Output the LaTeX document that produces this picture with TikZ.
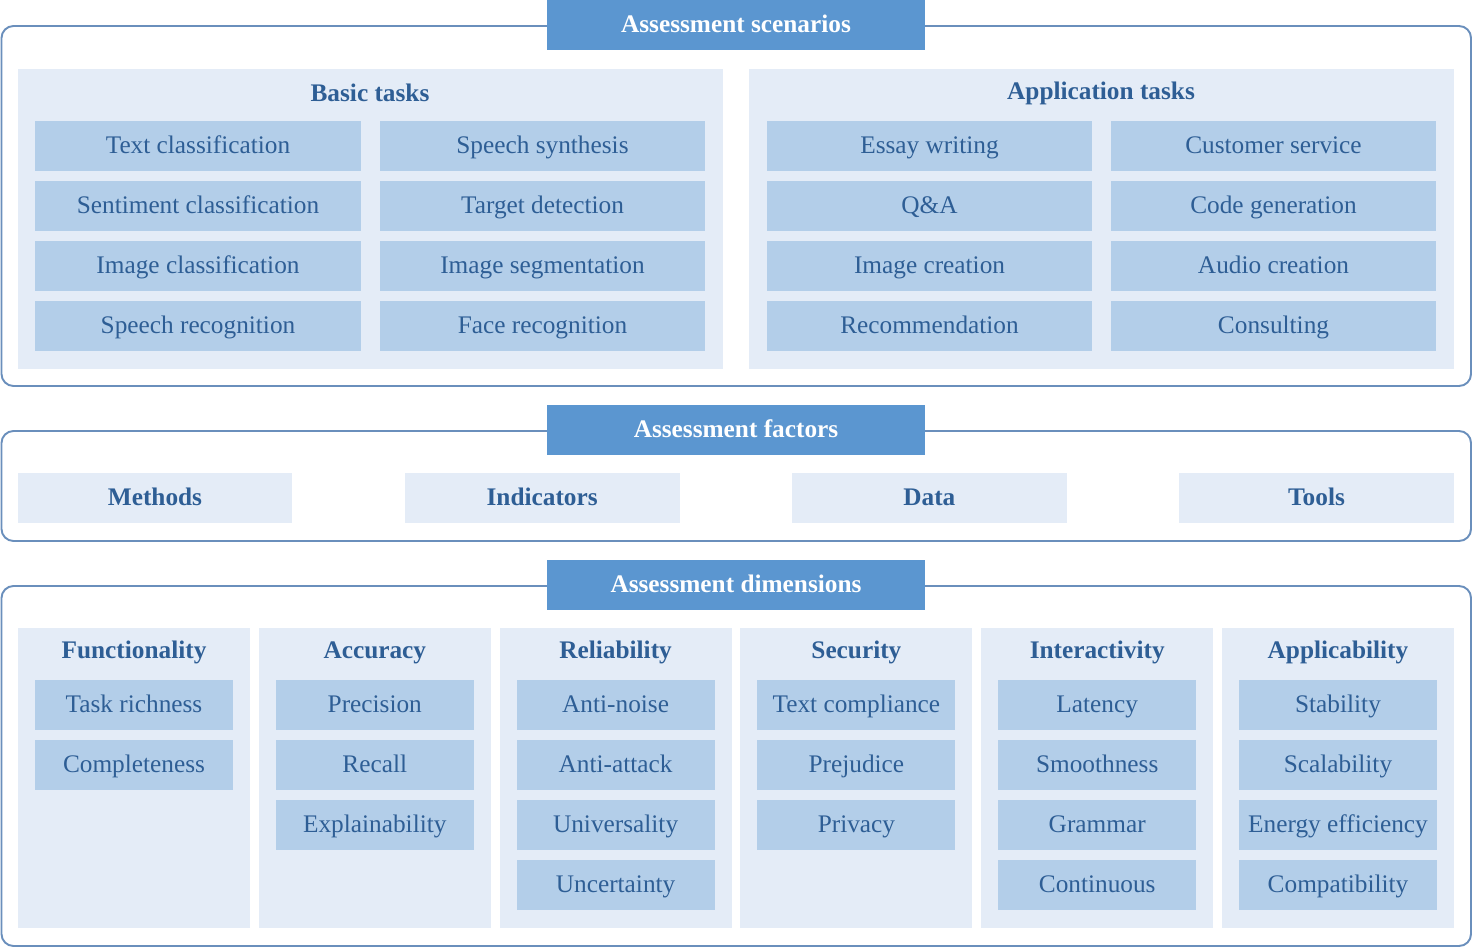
\documentclass[tikz,border=0pt]{standalone}
\usepackage{fontspec}
\setmainfont{Liberation Serif}
\definecolor{framec}{HTML}{6A8FBC}
\definecolor{headc}{HTML}{5B96D0}
\definecolor{panelc}{HTML}{E4ECF7}
\definecolor{cellc}{HTML}{B3CEE9}
\definecolor{txtc}{HTML}{2E5E95}
\tikzset{
  every node/.style={font=\fontsize{14.4}{17}\selectfont, text=txtc, inner sep=0pt,
    text height=0.9em, text depth=0.1em},
  frame/.style={draw=framec, line width=1.1pt, rounded corners=0.24cm},
  head/.style={fill=headc, text=white, font=\fontsize{14.4}{17}\selectfont\bfseries,
    minimum width=7.56cm, minimum height=1cm},
  ttl/.style={font=\fontsize{14.4}{17}\selectfont\bfseries},
  cell/.style={fill=cellc, minimum height=1cm},
  factor/.style={fill=panelc, font=\fontsize{14.4}{17}\selectfont\bfseries,
    minimum width=5.5cm, minimum height=1cm}
}

\begin{document}
\begin{tikzpicture}[x=0.02cm, y=-0.02cm]
    \useasboundingbox (0,0) rectangle (1473,949);

    \draw[frame] (1.5,26) rectangle (1471,386);
    \node[head] (scen) at (736,25) {Assessment scenarios};
    \fill[panelc] (18,69) rectangle (723,369);
    \fill[panelc] (749,69) rectangle (1454,369);
    \node[ttl] (basic) at (370,94) {Basic tasks};
    \node[ttl] (appl) at (1101,92) {Application tasks};
    \foreach \t [count=\i] in {Text classification, Sentiment classification, Image classification, Speech recognition}
      \node[cell, minimum width=6.52cm] (bta\i) at (198,86+60*\i) {\t};
    \foreach \t [count=\i] in {Speech synthesis, Target detection, Image segmentation, Face recognition}
      \node[cell, minimum width=6.52cm] (btb\i) at (542.5,86+60*\i) {\t};
    \foreach \t [count=\i] in {Essay writing, Q\&A, Image creation, Recommendation}
      \node[cell, minimum width=6.52cm] (ata\i) at (929.5,86+60*\i) {\t};
    \foreach \t [count=\i] in {Customer service, Code generation, Audio creation, Consulting}
      \node[cell, minimum width=6.52cm] (atb\i) at (1273.5,86+60*\i) {\t};

    \draw[frame] (1.5,431) rectangle (1471,541);
    \node[head] (fact) at (736,430) {Assessment factors};
    \foreach \t [count=\i] in {Methods, Indicators, Data, Tools}
      \node[factor] (fac\i) at (155+387.17*\i-387.17,498) {\t};

    \draw[frame] (1.5,586) rectangle (1471,946);
    \node[head] (dims) at (736,585) {Assessment dimensions};
    \foreach \c/\hd/\items in {0/Functionality/{Task richness,Completeness},
        1/Accuracy/{Precision,Recall,Explainability},
        2/Reliability/{Anti-noise,Anti-attack,Universality,Uncertainty},
        3/Security/{Text compliance,Prejudice,Privacy},
        4/Interactivity/{Latency,Smoothness,Grammar,Continuous},
        5/Applicability/{Stability,Scalability,Energy efficiency,Compatibility}} {
      \fill[panelc] (18+240.8*\c,628) rectangle (250+240.8*\c,928);
      \node[ttl] (dim\c) at (134+240.8*\c,651) {\hd};
      \foreach \t [count=\j] in \items
        \node[cell, minimum width=3.96cm] (dim\c-\j) at (134+240.8*\c,645+60*\j) {\t};
    }
  \end{tikzpicture}
\end{document}
